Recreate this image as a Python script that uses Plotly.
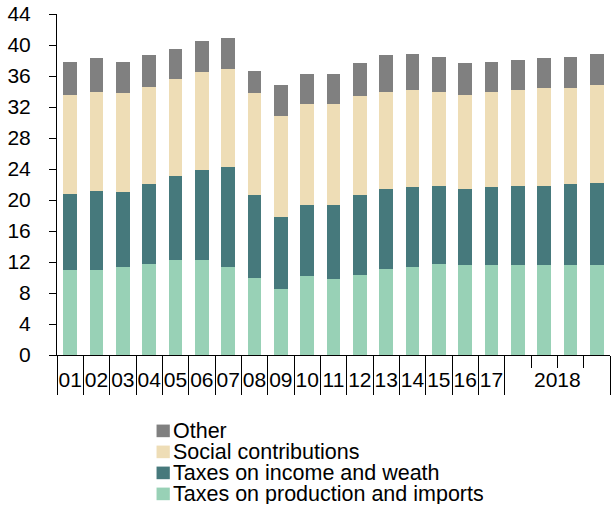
import plotly.graph_objects as go

# ---- data ----
periods = ["01", "02", "03", "04", "05", "06", "07", "08", "09", "10", "11", "12",
           "13", "14", "15", "16", "17", "2018Q1", "2018Q2", "2018Q3", "2018Q4"]
year_labels = ["01", "02", "03", "04", "05", "06", "07", "08", "09", "10", "11", "12",
               "13", "14", "15", "16", "17", "2018"]

taxes_production = [11.0, 11.0, 11.4, 11.75, 12.2, 12.2, 11.4, 9.95, 8.5, 10.15, 9.75,
                    10.35, 11.15, 11.35, 11.75, 11.6, 11.6, 11.6, 11.6, 11.6, 11.6]
taxes_income = [9.8, 10.2, 9.65, 10.35, 10.9, 11.7, 12.9, 10.7, 9.3, 9.25, 9.65,
                10.3, 10.25, 10.3, 10.05, 9.8, 10.05, 10.2, 10.2, 10.5, 10.65]
social_contrib = [12.8, 12.8, 12.75, 12.5, 12.5, 12.6, 12.55, 13.15, 13.0, 13.0, 13.0,
                  12.75, 12.6, 12.55, 12.2, 12.2, 12.35, 12.4, 12.6, 12.3, 12.55]
other = [4.2, 4.3, 4.0, 4.05, 3.9, 4.0, 4.05, 2.8, 4.0, 3.8, 3.8,
         4.3, 4.65, 4.7, 4.45, 4.1, 3.85, 3.85, 3.9, 4.05, 4.1]

series_names = ["Taxes on production and imports", "Taxes on income and weath",
                "Social contributions", "Other"]
series_values = [taxes_production, taxes_income, social_contrib, other]
series_colors = ["#98D1B6", "#46797C", "#EEDDB6", "#808080"]

y_ticks = list(range(0, 45, 4))

# ---- positions derived from data ----
xs = list(range(len(periods)))
n_years = len(year_labels) - 1                      # annual bars
q_start = n_years                                   # first quarterly bar
label_pos = xs[:n_years] + [(q_start + xs[-1]) / 2]
major_bounds = [i - 0.5 for i in range(n_years + 1)] + [xs[-1] + 0.5]
minor_bounds = [i + 0.5 for i in range(q_start, xs[-1])]

FONT = "Liberation Sans, Arial, sans-serif"

fig = go.Figure()
for name, vals, col in zip(series_names, series_values, series_colors):
    fig.add_trace(go.Bar(x=xs, y=vals, name=name, marker=dict(color=col, line=dict(width=0)),
                         showlegend=False))
# invisible carrier so the label axis is drawn
fig.add_trace(go.Scatter(x=label_pos, y=[0] * len(label_pos), mode="none", xaxis="x2",
                         showlegend=False, hoverinfo="skip"))

# manual legend (top entry = last series)
leg_x0, leg_x1, leg_tx = 0.180, 0.204, 0.2075
leg_top, leg_step, sw_h = -0.2225, 0.0616, 0.037
for k, (name, col) in enumerate(reversed(list(zip(series_names, series_colors)))):
    yc = leg_top - k * leg_step
    fig.add_shape(type="rect", xref="paper", yref="paper", x0=leg_x0, x1=leg_x1,
                  y0=yc - sw_h / 2, y1=yc + sw_h / 2, fillcolor=col, line=dict(width=0))
    fig.add_annotation(xref="paper", yref="paper", x=leg_tx, y=yc, text=name,
                       showarrow=False, xanchor="left", yanchor="middle",
                       height=21, borderpad=0,
                       font=dict(family=FONT, size=21.5, color="#000000"))

fig.update_layout(
    width=612, height=508,
    margin=dict(l=57, r=2, t=14, b=153, autoexpand=False),
    paper_bgcolor="white", plot_bgcolor="white",
    barmode="stack", bargap=0.47,
    font=dict(family=FONT, size=20, color="#000000"),
    xaxis=dict(range=[-0.5, xs[-1] + 0.5], showgrid=False, zeroline=False,
               showline=True, linecolor="#000000", linewidth=1,
               tickmode="array", tickvals=major_bounds, ticks="outside", ticklen=39,
               tickcolor="#000000", tickwidth=1, showticklabels=False,
               minor=dict(tickmode="array", tickvals=minor_bounds, ticks="outside",
                          ticklen=12, tickcolor="#000000", tickwidth=1)),
    xaxis2=dict(overlaying="x", anchor="y", side="bottom", range=[-0.5, xs[-1] + 0.5],
                showgrid=False, zeroline=False, showline=False, ticks="",
                tickmode="array", tickvals=label_pos, ticktext=year_labels,
                ticklabelstandoff=10, tickfont=dict(family=FONT, size=21, color="#000000")),
    yaxis=dict(range=[0, 44], tickmode="array", tickvals=y_ticks, showgrid=False,
               zeroline=False, showline=True, linecolor="#000000", linewidth=1,
               ticks="outside", ticklen=7, tickcolor="#000000", ticklabelstandoff=14,
               ticklabeloverflow="allow",
               tickfont=dict(family=FONT, size=21, color="#000000")),
)

# remove the browser's default 8px body margin so the 612x508 figure fills the window
fig.write_html("out.html", config={"displayModeBar": False},
               post_script="document.body.style.margin='0';")
